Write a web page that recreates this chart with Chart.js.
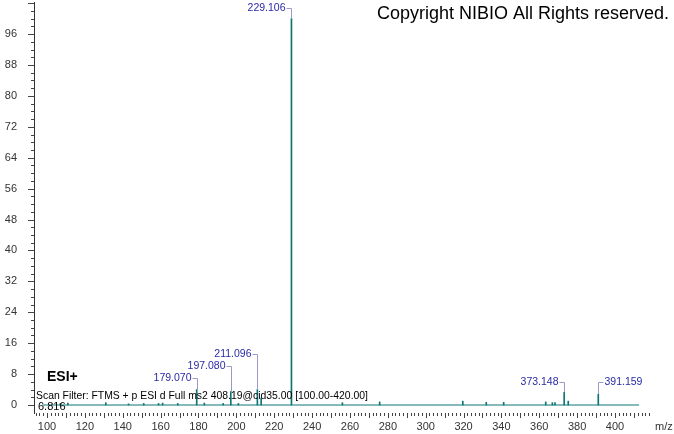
<!DOCTYPE html>
<html>
<head>
<meta charset="utf-8">
<script src="https://cdn.jsdelivr.net/npm/chart.js@4"></script>
<style>
  html, body { margin: 0; padding: 0; background: #fff; }
  #wrap { width: 674px; height: 434px; }
</style>
</head>
<body>
<div id="wrap"><canvas id="spectrum" width="674" height="434"></canvas></div>
<script>
// m/z of every stick and its relative intensity (%)
const peakMz = [107.05, 111.04, 131.05, 143.07, 151.07, 158.9, 161.06, 169.06, 179.070, 183.08,
    193.05, 197.080, 201.07, 211.096, 213.10, 229.106, 256.0, 275.7, 319.6, 332.0,
    341.2, 363.4, 366.9, 368.3, 373.148, 375.3, 391.159];
const peakIntensity = [0.4, 0.5, 0.6, 0.3, 0.4, 0.4, 0.5, 0.4, 4.0, 0.5,
    0.4, 3.5, 0.4, 4.0, 1.8, 100, 0.6, 0.8, 1.0, 0.7,
    0.7, 0.8, 0.6, 0.6, 3.3, 1.0, 2.8];

// flat baseline of the scan
const baselineMz = [97.5, 412.7];

// annotated peaks
const labelMz = [179.070, 197.080, 211.096, 229.106, 373.148, 391.159];
const labelText = ['179.070', '197.080', '211.096', '229.106', '373.148', '391.159'];

// axis tick labels
const xTickLabels = [100, 120, 140, 160, 180, 200, 220, 240, 260, 280, 300, 320, 340, 360, 380, 400];
const yTickLabels = [0, 8, 16, 24, 32, 40, 48, 56, 64, 72, 80, 88, 96];

// where each annotation sits (intensity level of the text, side of the stick)
const labelLevel = [7.0, 10.1, 13.2, 102.7, 5.95, 5.95];
const labelSide = ['left', 'left', 'left', 'left', 'left', 'right'];

const TEAL = '#0f7474';
const LABEL_BLUE = '#2a2aa6';
const LEADER = '#9a9ac6';
const FONT = 'Arial, "Liberation Sans", sans-serif';

const spectrumDecor = {
    id: 'spectrumDecor',
    afterDraw(chart) {
        const ctx = chart.ctx;
        const xs = chart.scales.x;
        const ys = chart.scales.y;
        const area = chart.chartArea;

        ctx.save();

        // minor / major tick marks
        ctx.strokeStyle = '#444';
        ctx.lineWidth = 1;
        ctx.beginPath();
        for (let v = 0; v <= 104; v += 2) {
            const py = Math.round(ys.getPixelForValue(v)) + 0.5;
            const len = v % 8 === 0 ? 6 : 3;
            ctx.moveTo(area.left - len, py);
            ctx.lineTo(area.left, py);
        }
        for (let v = 94; v <= 418; v += 2) {
            const px = Math.round(xs.getPixelForValue(v)) + 0.5;
            const len = v % 10 === 0 ? 5 : 3;
            ctx.moveTo(px, area.bottom);
            ctx.lineTo(px, area.bottom + len);
        }
        ctx.stroke();

        // axis tick labels
        ctx.fillStyle = '#333';
        ctx.font = '11px ' + FONT;
        ctx.textBaseline = 'middle';
        ctx.textAlign = 'right';
        yTickLabels.forEach(v => {
            ctx.fillText(String(v), 17, ys.getPixelForValue(v));
        });
        ctx.textAlign = 'center';
        xTickLabels.forEach(v => {
            ctx.fillText(String(v), xs.getPixelForValue(v), 427);
        });
        ctx.textAlign = 'left';
        ctx.fillText('m/z', 655, 427);

        // peak annotations with leader lines
        ctx.font = '10.5px ' + FONT;
        labelMz.forEach((mz, i) => {
            const idx = peakMz.indexOf(mz);
            const px = Math.round(xs.getPixelForValue(mz)) + 0.5;
            const top = ys.getPixelForValue(peakIntensity[idx]);
            const ly = Math.round(ys.getPixelForValue(labelLevel[i])) + 0.5;
            const dir = labelSide[i] === 'left' ? -1 : 1;

            ctx.strokeStyle = LEADER;
            ctx.beginPath();
            ctx.moveTo(px + dir * 5, ly);
            ctx.lineTo(px, ly);
            ctx.lineTo(px, top);
            ctx.stroke();

            ctx.fillStyle = LABEL_BLUE;
            ctx.textAlign = dir < 0 ? 'right' : 'left';
            ctx.fillText(labelText[i], px + dir * 6, ly);
        });

        // header and scan info texts
        ctx.fillStyle = '#000';
        ctx.textAlign = 'left';
        ctx.font = '18px ' + FONT;
        ctx.fillText('Copyright NIBIO All Rights reserved.', 377, 14);

        ctx.font = 'bold 14px ' + FONT;
        ctx.fillText('ESI+', 47, 377);

        ctx.font = '10.4px ' + FONT;
        ctx.fillText('Scan Filter: FTMS + p ESI d Full ms2 408.19@cid35.00 [100.00-420.00]', 36, 396);
        ctx.font = '11px ' + FONT;
        ctx.fillText('6.816', 38, 407);

        ctx.restore();
    }
};

new Chart('spectrum', {
    type: 'bar',
    data: {
        datasets: [{
            type: 'bar',
            data: peakMz.map((mz, i) => ({ x: mz, y: peakIntensity[i] })),
            backgroundColor: TEAL,
            borderWidth: 0,
            barThickness: 1,
            order: 1
        }, {
            type: 'line',
            data: baselineMz.map(mz => ({ x: mz, y: 0 })),
            borderColor: TEAL,
            borderWidth: 1,
            pointRadius: 0,
            order: 2
        }]
    },
    options: {
        responsive: false,
        animation: false,
        events: [],
        layout: { padding: { top: 2, right: 23, left: 0, bottom: 0 } },
        plugins: {
            legend: { display: false },
            tooltip: { enabled: false }
        },
        scales: {
            x: {
                type: 'linear',
                offset: false,
                min: 93.13,
                max: 419,
                grid: { display: false, offset: false },
                border: { display: false },
                ticks: { display: false },
                afterFit: (scale) => { scale.height = 21; }
            },
            y: {
                min: -2.07,
                max: 104.3,
                grid: { display: false },
                border: { display: true, color: '#333', width: 1 },
                ticks: { display: false },
                afterFit: (scale) => { scale.width = 34; }
            }
        }
    },
    plugins: [spectrumDecor]
});
</script>
</body>
</html>
